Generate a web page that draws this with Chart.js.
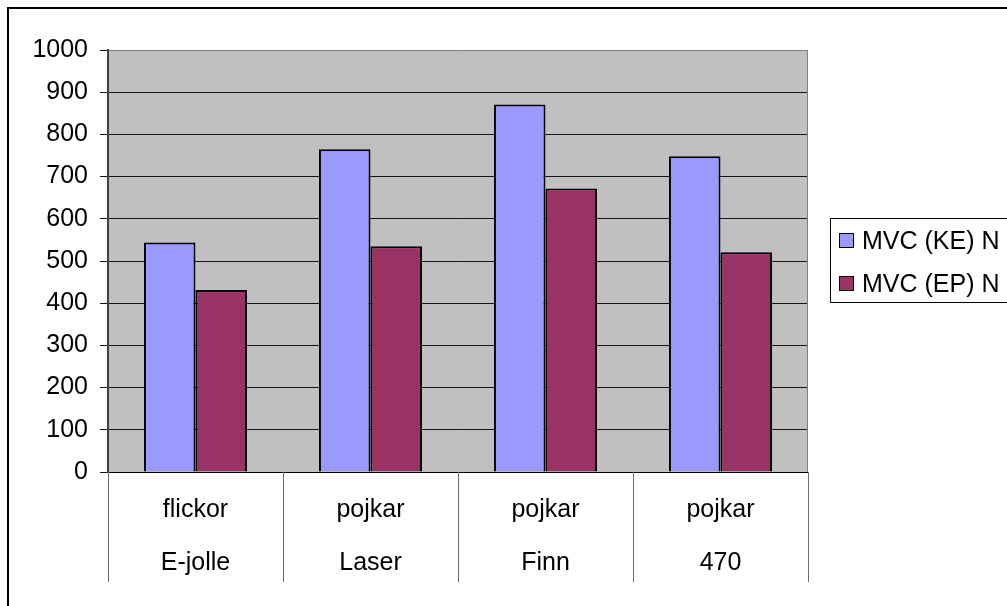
<!DOCTYPE html>
<html>
<head>
<meta charset="utf-8">
<script src="https://cdn.jsdelivr.net/npm/chart.js@4.4.1/dist/chart.umd.min.js"></script>
<style>
  html, body { margin: 0; padding: 0; background: #fff; overflow: hidden; }
  #wrap { width: 1007px; height: 606px; overflow: hidden; }
</style>
</head>
<body>
<div id="wrap"><canvas id="c" width="1007" height="606"></canvas></div>
<script>
// Categories: group (top line) and boat class (bottom line)
const groups = ["flickor", "pojkar", "pojkar", "pojkar"];
const boats = ["E-jolle", "Laser", "Finn", "470"];
// Maximum voluntary contraction, Newton
const mvcKE = [544, 765, 871, 748];
const mvcEP = [431, 535, 672, 521];
const yTicks = [0, 100, 200, 300, 400, 500, 600, 700, 800, 900, 1000];
const seriesNames = ["MVC (KE) N", "MVC (EP) N"];
const seriesColors = ["#9999FF", "#993366"];

const FONT = "'Liberation Sans', Arial, sans-serif";
const FS = 25;
Chart.defaults.font.family = FONT;
Chart.defaults.font.size = FS;
Chart.defaults.color = "#000";

const labels = groups.map((g, i) => [g, boats[i]]);

const frame = {
  id: "frame",
  beforeDraw(chart) {
    const { ctx, chartArea: a } = chart;
    ctx.save();
    ctx.fillStyle = "#fff";
    ctx.fillRect(0, 0, chart.width, chart.height);
    ctx.fillStyle = "#C0C0C0";
    ctx.fillRect(a.left, a.top, a.right - a.left, a.bottom - a.top);
    ctx.restore();
  },
  afterDraw(chart) {
    const { ctx, chartArea: a } = chart;
    const x = chart.scales.x;
    ctx.save();
    // category dividers below the axis
    ctx.strokeStyle = "#6E6E6E";
    ctx.lineWidth = 1;
    for (let i = 0; i <= labels.length; i++) {
      const px = Math.round(x.getPixelForValue(i - 0.5)) + 0.5;
      ctx.beginPath();
      ctx.moveTo(px, a.bottom);
      ctx.lineTo(px, a.bottom + 110);
      ctx.stroke();
    }
    // right edge of the plot area
    ctx.strokeStyle = "#808080";
    ctx.beginPath();
    ctx.moveTo(Math.round(a.right) - 0.5, a.top);
    ctx.lineTo(Math.round(a.right) - 0.5, a.bottom);
    ctx.stroke();

    // legend
    ctx.strokeStyle = "#000";
    ctx.lineWidth = 1;
    ctx.beginPath();
    ctx.moveTo(1010, 218.5);
    ctx.lineTo(830.5, 218.5);
    ctx.lineTo(830.5, 302.5);
    ctx.lineTo(1010, 302.5);
    ctx.stroke();
    ctx.font = FS + "px " + FONT;
    ctx.textBaseline = "middle";
    ctx.textAlign = "left";
    chart.data.datasets.forEach((ds, i) => {
      const y = 233 + i * 43;
      ctx.fillStyle = ds.backgroundColor;
      ctx.fillRect(839.5, y + 0.5, 14, 14);
      ctx.strokeStyle = "#000";
      ctx.strokeRect(839.5, y + 0.5, 14, 14);
      ctx.fillStyle = "#000";
      ctx.fillText(ds.label, 862, y + 9);
    });

    // outer chart border
    ctx.strokeStyle = "#000";
    ctx.lineWidth = 2;
    ctx.beginPath();
    ctx.moveTo(1010, 8);
    ctx.lineTo(8, 8);
    ctx.lineTo(8, 610);
    ctx.stroke();
    ctx.restore();
  }
};

new Chart(document.getElementById("c"), {
  type: "bar",
  data: {
    labels,
    datasets: [
      { label: seriesNames[0], data: mvcKE, backgroundColor: seriesColors[0] },
      { label: seriesNames[1], data: mvcEP, backgroundColor: seriesColors[1] }
    ]
  },
  options: {
    responsive: false,
    animation: false,
    devicePixelRatio: 1,
    layout: { padding: { left: 0, top: 50, right: 199, bottom: 0 } },
    datasets: {
      bar: {
        categoryPercentage: 0.589,
        barPercentage: 1,
        borderColor: "#000",
        borderWidth: 2
      }
    },
    plugins: { legend: { display: false }, tooltip: { enabled: false } },
    scales: {
      x: {
        afterFit(s) { s.height = 134; },
        grid: { display: true, drawOnChartArea: false, drawTicks: false },
        border: { display: true, color: "#000", width: 1 },
        ticks: {
          padding: 12,
          maxRotation: 0,
          autoSkip: false,
          font: { size: FS, lineHeight: 53 / FS }
        }
      },
      y: {
        min: 0,
        max: 1000,
        afterFit(s) { s.width = 108; },
        afterBuildTicks(s) { s.ticks = yTicks.map(v => ({ value: v })); },
        grid: {
          color: c => (c.tick && c.tick.value === 1000 ? "#808080" : "#141414"),
          tickColor: "#141414",
          lineWidth: 1,
          tickLength: 8
        },
        border: { display: true, color: "#404040", width: 2 },
        ticks: { padding: 12, font: { size: FS }, callback: v => String(v) }
      }
    }
  },
  plugins: [frame]
});
</script>
</body>
</html>
